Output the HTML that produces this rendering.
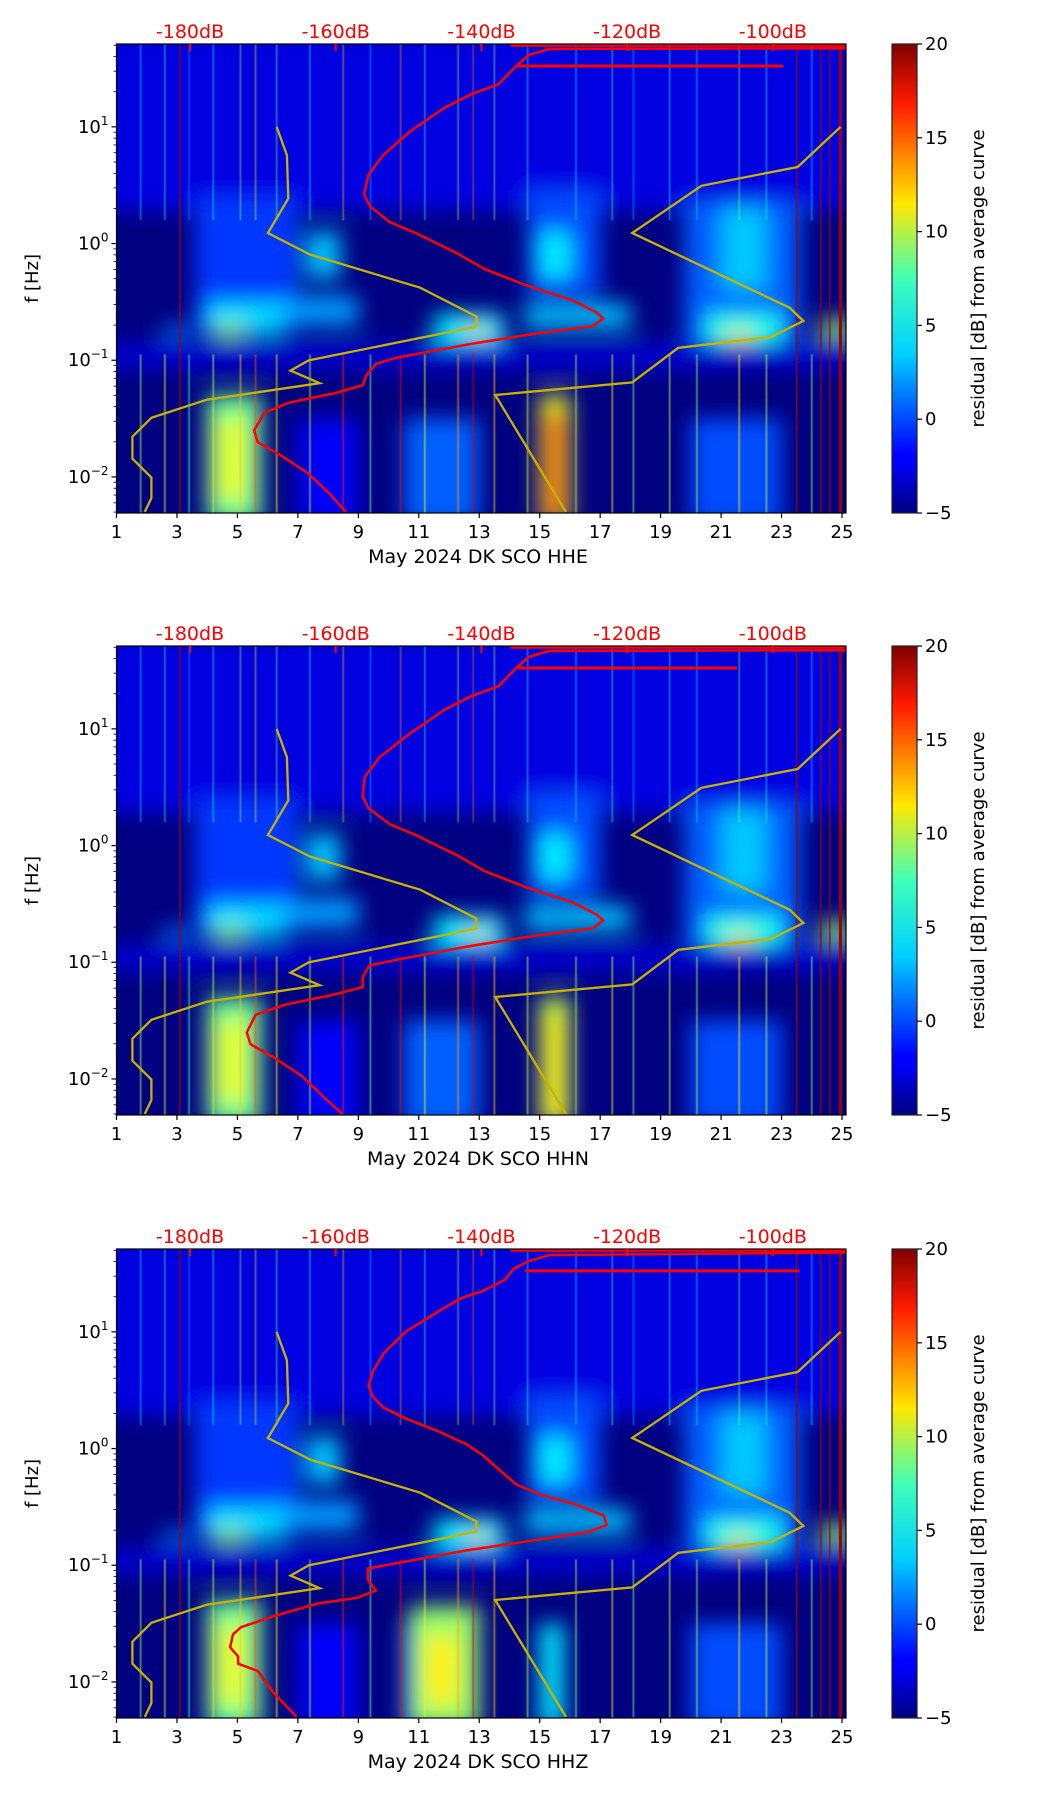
<!DOCTYPE html>
<html><head><meta charset="utf-8">
<style>
html,body{margin:0;padding:0;background:#fff;}
svg{display:block;font-family:"DejaVu Sans","Liberation Sans",sans-serif;}
</style></head>
<body>
<svg id="fig" width="1052" height="1806" viewBox="0 0 1052 1806" xmlns="http://www.w3.org/2000/svg">
<defs>
<linearGradient id="jetgrad" x1="0" y1="1" x2="0" y2="0">
<stop offset="0" stop-color="#000080"/><stop offset="0.11" stop-color="#0000ff"/>
<stop offset="0.125" stop-color="#0000ff"/><stop offset="0.34" stop-color="#00d0ff"/>
<stop offset="0.5" stop-color="#40ffb8"/><stop offset="0.66" stop-color="#ffe800"/>
<stop offset="0.875" stop-color="#ff1a00"/><stop offset="1" stop-color="#800000"/>
</linearGradient>
<filter id="blur6" x="-10%" y="-10%" width="120%" height="120%"><feGaussianBlur stdDeviation="11"/></filter>
<filter id="blur1"><feGaussianBlur stdDeviation="0.6"/></filter>
</defs>
</svg>
<script>
// ---- data ----
const dayTicks = [1,3,5,7,9,11,13,15,17,19,21,23,25];
const dbTicks = [-180,-160,-140,-120,-100];
const yDecades = [1,0,-1,-2];
const cbTicks = [-5,0,5,10,15,20];
const panelNames = ["HHE","HHN","HHZ"];
// NLNM (dB, log10 f)
const nlnmDb = [-168.1,-166.7,-166.5,-169.3,-163.5,-148.4,-140.7,-140.7,-163.7,-166.2,-162.2,-177.7,-185.3,-187.9,-187.9,-185.3,-185.3,-186.2];
const nlnmLf = [1.0,0.757,0.387,0.09,-0.095,-0.378,-0.624,-0.712,-1.001,-1.089,-1.197,-1.338,-1.493,-1.655,-1.844,-2.005,-2.181,-2.3];
// NHNM
const nhnmDb = [-90.7,-96.6,-109.8,-119.3,-97.7,-95.8,-100.2,-113.0,-119.3,-138.1,-128.4];
const nhnmLf = [1.0,0.656,0.495,0.09,-0.55,-0.664,-0.799,-0.894,-1.19,-1.298,-2.3];
// red curves per panel
const red1Db = [-89.8,-130.7,-133.5,-135.3,-137.7,-141.4,-145.1,-149.8,-153.5,-155.5,-156.1,-155.3,-152.6,-148.8,-143.3,-139.5,-134.0,-127.4,-124.2,-123.3,-124.7,-133.0,-141.4,-151.6,-154.4,-155.8,-156.3,-160.0,-166.5,-169.8,-171.2,-170.7,-167.4,-163.7,-160.9,-158.6];
const red1Lf = [1.674,1.667,1.617,1.516,1.364,1.28,1.162,0.96,0.757,0.589,0.42,0.319,0.185,0.084,-0.085,-0.22,-0.354,-0.489,-0.59,-0.641,-0.708,-0.776,-0.86,-0.978,-1.028,-1.129,-1.214,-1.281,-1.365,-1.45,-1.601,-1.702,-1.82,-1.972,-2.14,-2.3];
const red2Db = [-89.8,-130.7,-133.5,-135.3,-137.7,-141.4,-145.1,-149.8,-154.0,-156.0,-156.3,-155.5,-152.6,-148.8,-143.3,-139.5,-134.0,-127.4,-124.2,-123.3,-124.7,-133.0,-141.4,-151.6,-155.4,-156.3,-156.3,-160.5,-167.0,-171.0,-172.2,-171.7,-168.4,-164.7,-161.9,-159.1];
const red2Lf = red1Lf;
const red3Db = [-90.0,-130.7,-133.7,-135.6,-136.8,-139.8,-142.8,-145.8,-150.3,-153.4,-154.9,-155.5,-154.9,-153.4,-150.3,-145.8,-142.0,-139.8,-137.5,-135.2,-131.5,-126.9,-123.2,-122.8,-125.4,-133.7,-142.0,-150.3,-155.6,-155.6,-154.5,-157.1,-162.4,-168.5,-173.0,-174.1,-174.5,-173.4,-173.4,-170.7,-168.5,-165.4];
const red3Lf = [1.68,1.658,1.601,1.539,1.445,1.351,1.288,1.179,1.006,0.818,0.662,0.536,0.443,0.349,0.255,0.145,0.035,-0.059,-0.184,-0.309,-0.403,-0.481,-0.575,-0.654,-0.716,-0.795,-0.873,-0.967,-1.029,-1.123,-1.217,-1.28,-1.327,-1.437,-1.531,-1.593,-1.703,-1.781,-1.844,-1.906,-2.094,-2.298];
const hlineLf = [1.522,1.522,1.523];
const hlineStartDb = [-135,-135,-134];
const hlineEndDb = [-98.6,-104.9,-96.4];
// heat regions: [day0, day1, logf0, logf1, residual dB]
const heatCommon = [
 [0.5,25.5,0.28,1.8,-2.6],[0.5,25.5,-1.08,-0.85,-3],
 [3.6,7.0,-0.75,0.4,-0.5],[4,6.5,-0.78,-0.5,3.5],[4.3,5.2,-0.8,-0.68,8],
 [6.5,9,-0.7,-0.45,2],[7.3,8.4,-0.3,0.1,3],[2.5,3.5,-0.8,-0.7,1],
 [11.5,13.8,-0.85,-0.6,4],[12.6,13.3,-0.8,-0.72,12],
 [14.6,17,-0.45,0.45,0],[14.5,18,-0.72,-0.52,3],[15,16,-0.3,0.1,4],
 [19.8,23.6,-0.85,0.35,0.5],[20.5,23,-0.85,-0.6,5],[21.2,22,-0.85,-0.75,11],[21,22.5,-0.4,0.3,3],
 [24.3,25.3,-0.8,-0.65,8],
 [4,5.8,-2.4,-1.3,7],[4.3,5.3,-2.2,-1.5,10],
 [10.5,13,-2.4,-1.5,0.5],[20,23,-2.4,-1.5,0],[7,9,-2.4,-1.5,-2]
];
const heatP1 = [[15,16,-2.4,-1.3,10],[15.2,15.8,-2.4,-1.45,16]];
const heatP2 = [[15,16,-2.4,-1.3,9],[15.2,15.8,-2.4,-1.45,11]];
const heatP3 = [[10.7,13,-2.4,-1.35,8],[11.2,12.3,-2.2,-1.6,11],[15,15.8,-2.4,-1.5,4]];
// streaks: day, value
const streakDays = [1.8,2.6,3.4,4.2,5.1,5.6,6.3,7.4,8.5,9.4,10.4,11.2,12.3,12.8,13.5,14.6,16.2,17.4,18.1,19.3,20.2,21.6,22.5,24.0];
const streakVals = [8,10,6,9,12,15,11,9,16,7,17,10,13,18,12,9,8,10,7,9,8,11,9,8];
const redVLineDays = [3.1,23.5,24.3,24.6,24.95];

// ---- helpers ----
const NS="http://www.w3.org/2000/svg";
const svg=document.getElementById('fig');
const PL=116.5, PW=729.5, PH=469, TOPS=[44,646,1249];
const LFTOP=1.71, LFBOT=-2.309;
function xDay(d){return PL+(d-1)*((842-PL)/24);}
function xDb(db){return 190+(db+180)*7.285;}
function yLf(top,lf){return top+(LFTOP-lf)/(LFTOP-LFBOT)*PH;}
function jet(v){let t=(v+5)/25;t=Math.max(0,Math.min(1,t));
 const c=x=>Math.round(255*Math.max(0,Math.min(1,x)));
 return `rgb(${c(1.5-Math.abs(4*t-3))},${c(1.5-Math.abs(4*t-2))},${c(1.5-Math.abs(4*t-1))})`;}
function mk(tag,attrs,parent){const e=document.createElementNS(NS,tag);for(const k in attrs)e.setAttribute(k,attrs[k]);(parent||svg).appendChild(e);return e;}
function poly(dbs,lfs,top){return dbs.map((d,i)=>xDb(d).toFixed(1)+','+yLf(top,lfs[i]).toFixed(1)).join(' ');}

const reds=[[red1Db,red1Lf],[red2Db,red2Lf],[red3Db,red3Lf]];
const heats=[heatP1,heatP2,heatP3];

TOPS.forEach((top,p)=>{
 const g=mk('g',{});
 
 
 const clipId='clip'+p;
 const cp=mk('clipPath',{id:clipId},g);mk('rect',{x:PL,y:top,width:PW,height:PH},cp);
 const plot=mk('g',{'clip-path':`url(#${clipId})`},g);
 const bg=mk('rect',{x:PL,y:top,width:PW,height:PH,fill:jet(-5)},plot);
 
 
 const hg=mk('g',{filter:'url(#blur6)'},plot);
 heatCommon.concat(heats[p]).forEach(h=>{
  const r=mk('rect',{x:xDay(h[0]),y:yLf(top,h[3]),width:xDay(h[1])-xDay(h[0]),height:yLf(top,h[2])-yLf(top,h[3]),fill:jet(h[4])},hg);
  
  
 });
 const sg=mk('g',{filter:'url(#blur1)'},plot);
 streakDays.forEach((d,i)=>{
  const v=streakVals[i];
  const up=mk('rect',{x:xDay(d)-0.8,y:top,width:1.6,height:yLf(top,0.2)-top,fill:jet(v-4),opacity:0.45},sg);
  
  
  const lo=mk('rect',{x:xDay(d)-0.8,y:yLf(top,-0.95),width:1.6,height:yLf(top,-2.4)-yLf(top,-0.95),fill:jet(v),opacity:0.6},sg);
  
  
 });
 redVLineDays.forEach(d=>{
  const l=mk('line',{x1:xDay(d),x2:xDay(d),y1:top,y2:top+PH,stroke:'#a00000','stroke-width':d>24.8?3:1.2},plot);
  
  
 });
 const n1=mk('polyline',{points:poly(nlnmDb,nlnmLf,top),fill:'none',stroke:'#c8b400','stroke-width':2.3},plot);
 
 
 const n2=mk('polyline',{points:poly(nhnmDb,nhnmLf,top),fill:'none',stroke:'#c8b400','stroke-width':2.3},plot);
 
 
 const rc=mk('polyline',{points:poly(reds[p][0],reds[p][1],top),fill:'none',stroke:'#ff0000','stroke-width':2.5},plot);
 
 
 const hl=mk('line',{x1:xDb(hlineStartDb[p]),x2:xDb(hlineEndDb[p]),y1:yLf(top,hlineLf[p]),y2:yLf(top,hlineLf[p]),stroke:'#ff0000','stroke-width':3},plot);
 
 
 const tl=mk('line',{x1:xDb(-136),x2:PL+PW,y1:top+1.5,y2:top+1.5,stroke:'#ff0000','stroke-width':2.5},plot);
 
 
 // frame
 const fr=mk('rect',{x:PL,y:top,width:PW,height:PH,fill:'none',stroke:'#000','stroke-width':1.2},g);
 
 
 // x ticks
 dayTicks.forEach(d=>{
  mk('line',{x1:xDay(d),x2:xDay(d),y1:top+PH,y2:top+PH+5,stroke:'#000','stroke-width':1.2},g);
  const t=mk('text',{x:xDay(d),y:top+PH+25,'font-size':18,'text-anchor':'middle'},g);t.textContent=d;
  
  
 });
 const xl=mk('text',{x:478,y:top+PH+50,'font-size':19,'text-anchor':'middle'},g);
 xl.textContent='May 2024 DK SCO  '+panelNames[p];
 
 
 // y ticks
 yDecades.forEach(e=>{
  const y=yLf(top,e);
  mk('line',{x1:PL-5,x2:PL,y1:y,y2:y,stroke:'#000','stroke-width':1.2},g);
  const lbl=e<0?'\u2212'+(-e):String(e);
  const t=mk('text',{x:PL-8,y:y+6,'font-size':18,'text-anchor':'end'},g);
  
  
  const b=mk('tspan',{},t);b.textContent='10';
  const s=mk('tspan',{dy:-8,'font-size':12},t);s.textContent=lbl;
  for(let m=2;m<10;m++){const lf=e+Math.log10(m);if(lf<LFTOP&&lf>LFBOT){const yy=yLf(top,lf);mk('line',{x1:PL-3,x2:PL,y1:yy,y2:yy,stroke:'#000','stroke-width':0.8},g);}}
 });
 [-3].forEach(e=>{for(let m=5;m<10;m++){const lf=e+Math.log10(m);if(lf>LFBOT){const yy=yLf(top,lf);mk('line',{x1:PL-3,x2:PL,y1:yy,y2:yy,stroke:'#000','stroke-width':0.8},g);}}});
 const yl=mk('text',{x:0,y:0,'font-size':18,'text-anchor':'middle',transform:`translate(38,${top+PH/2}) rotate(-90)`},g);
 yl.textContent='f [Hz]';
 
 
 // top dB ticks
 dbTicks.forEach(db=>{
  mk('line',{x1:xDb(db),x2:xDb(db),y1:top,y2:top+7,stroke:'#ff0000','stroke-width':2},g);
  const t=mk('text',{x:xDb(db),y:top-6,'font-size':19,fill:'#ff0000','text-anchor':'middle'},g);t.textContent=db+'dB';
  
  
 });
 // colorbar
 const cb=mk('rect',{x:892,y:top,width:25,height:PH,fill:'url(#jetgrad)',stroke:'#222','stroke-width':1.2},g);
 
 
 cbTicks.forEach(v=>{
  const y=top+PH-(v+5)/25*PH;
  mk('line',{x1:917,x2:922,y1:y,y2:y,stroke:'#000','stroke-width':1.2},g);
  const t=mk('text',{x:925,y:y+6,'font-size':18},g);t.textContent=v<0?'\u2212'+(-v):v;
  
  
 });
 const cl=mk('text',{x:0,y:0,'font-size':18,'text-anchor':'middle',transform:`translate(984,${top+PH/2}) rotate(-90)`},g);
 cl.textContent='residual [dB] from average curve';
 
 
});
</script>
</body></html>
